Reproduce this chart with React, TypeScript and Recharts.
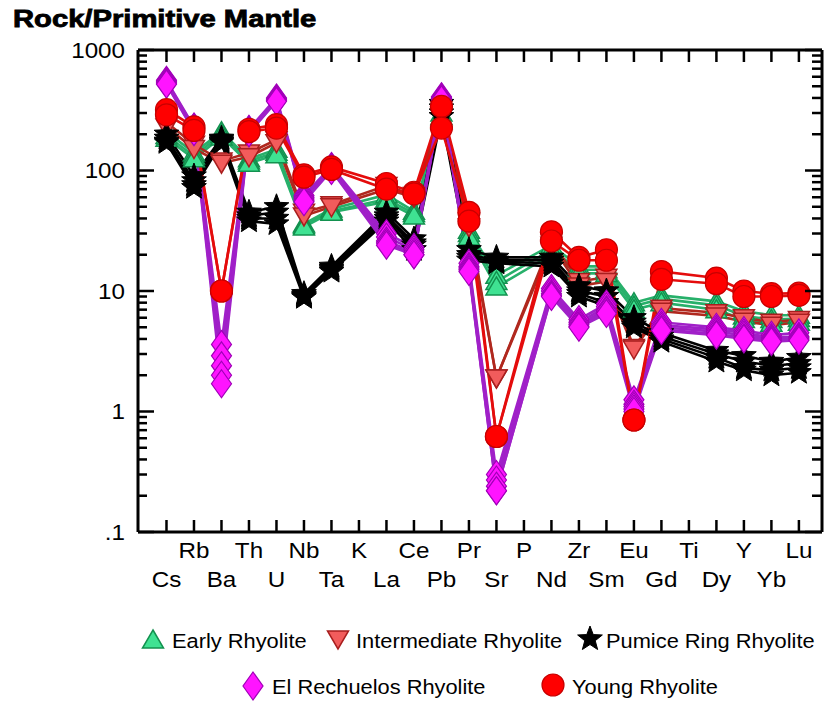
import React from 'react';
import { LineChart, Line, XAxis, YAxis } from 'recharts';

// ---------- categories & tick labels ----------
const categories = ['Cs', 'Rb', 'Ba', 'Th', 'U', 'Nb', 'Ta', 'K', 'La', 'Ce', 'Pb', 'Pr', 'Sr', 'P', 'Nd', 'Zr', 'Sm', 'Eu', 'Gd', 'Ti', 'Dy', 'Y', 'Yb', 'Lu'];
const majorTicks = [0.1, 1, 10, 100, 1000];
const majorTickLabels = ['.1', '1', '10', '100', '1000'];
const minorMultipliers = [2, 3, 4, 5, 6, 7, 8, 9];

// ---------- Early Rhyolite ----------
const early1 = [210, 140, 210, 125, 150, 36, 48, null, 63, 46, 300, 32, 13.5, null, 24, 16, 16, 8, 9.2, null, 8.2, 6.8, 6.3, 6.3];
const early2 = [195, 132, 200, 120, 142, 35, 46, null, 58, 44, 280, 30, 12, null, 22, 15, 15, 7.5, 8.6, null, 7.6, 6.2, 5.8, 5.9];
const early3 = [185, 125, 190, 115, 135, 34, 45, null, 55, 42, 260, 28, 10.8, null, 20, 14, 14, 7, 8, null, 7, 5.8, 5.4, 5.5];

// ---------- Intermediate Rhyolite ----------
const inter1 = [250, 165, 120, 140, 180, 45, 52, null, 75, 62, 320, 38, 1.9, null, 26, 12, 13, 3.4, 7.2, null, 6.6, 6, 5.5, 5.8];
const inter2 = [230, 152, 115, 130, 170, 42, 50, null, 70, 60, 290, 34, 1.9, null, 24, 11, 12, 3.3, 6.8, null, 6.2, 5.6, 5.2, 5.5];

// ---------- Pumice Ring Rhyolite ----------
const pumice1 = [200, 90, 185, 45, 50, 9.5, 16, null, 45, 27, 360, 22, 19, null, 19, 11, 10, 6, 4.5, null, 3.2, 2.9, 2.6, 2.8];
const pumice2 = [185, 82, 180, 42, 45, 9.2, 15.5, null, 42, 25, 330, 20, 18, null, 18, 10, 9, 5.5, 4.2, null, 3, 2.6, 2.4, 2.5];
const pumice3 = [175, 76, 175, 40, 40, 9, 15, null, 40, 24, 300, 19, 17.5, null, 17, 9.5, 8, 5.2, 4, null, 2.8, 2.3, 2.2, 2.3];
const pumice4 = [170, 72, 170, 38, 36, 8.8, 14.5, null, 38, 22, 280, 18, 17, null, 16, 9, 7.5, 5, 3.8, null, 2.6, 2.2, 2, 2.1];

// ---------- El Rechuelos Rhyolite ----------
const rech1 = [560, 230, 3.6, 220, 400, 62, 108, null, 30, 23, 410, 17, 0.3, null, 10.5, 5.8, 7.8, 1.25, 5.5, null, 5, 4.7, 4.3, 4.5];
const rech2 = [550, 225, 2.9, 216, 392, 60, 106, null, 28, 22, 402, 16, 0.27, null, 10, 5.5, 7.4, 1.15, 5.2, null, 4.8, 4.5, 4.1, 4.2];
const rech3 = [540, 220, 2.4, 212, 385, 58, 104, null, 26, 21, 395, 15.5, 0.24, null, 9.5, 5.3, 7, 1.1, 5, null, 4.6, 4.3, 4, 4.1];
const rech4 = [530, 215, 2.0, 208, 380, 56, 102, null, 25, 20, 390, 15, 0.22, null, 9.2, 5.1, 6.8, 1.05, 4.8, null, 4.4, 4.1, 3.9, 4];
const rech5 = [520, 210, 1.7, 205, 375, 55, 100, null, 24, 20, 385, 14.5, 0.22, null, 9, 5, 6.5, 1.0, 4.7, null, 4.3, 4, 3.8, 3.9];

// ---------- Young Rhyolite ----------
const young1 = [320, 230, 10, 220, 240, 92, 107, null, 78, 66, 340, 45, 0.62, null, 31, 19, 22, 0.85, 14.5, null, 12.8, 10, 9.5, 9.6];
const young2 = [290, 215, 10, 210, 225, 88, 102, null, 70, 64, 225, 38, 0.62, null, 26, 18, 18, 0.85, 12.5, null, 11.5, 9, 9, 9.2];

const groupNames = ['Early Rhyolite', 'Intermediate Rhyolite', 'Pumice Ring Rhyolite', 'El Rechuelos Rhyolite', 'Young Rhyolite'];
const groupSamples = [
  [early1, early2, early3],
  [inter1, inter2],
  [pumice1, pumice2, pumice3, pumice4],
  [rech1, rech2, rech3, rech4, rech5],
  [young1, young2],
];

// ---------- styles ----------
const styles = [
  { line: '#27b06a', fill: '#3fe292', stroke: '#13914f', shape: 'triUp' },
  { line: '#b0281e', fill: '#f25c5c', stroke: '#a81e1e', shape: 'triDown' },
  { line: '#000000', fill: '#000000', stroke: '#000000', shape: 'star' },
  { line: '#a020c8', fill: '#ff14ff', stroke: '#a000b8', shape: 'diamond' },
  { line: '#e40c0c', fill: '#ff0000', stroke: '#c80000', shape: 'circle' },
];

const FONT = '"Liberation Sans", Arial, Helvetica, sans-serif';

function starPoints(cx: number, cy: number, ro: number, ri: number) {
  const pts: string[] = [];
  for (let k = 0; k < 10; k++) {
    const r = k % 2 === 0 ? ro : ri;
    const a = -Math.PI / 2 + (k * Math.PI) / 5;
    pts.push(`${(cx + r * Math.cos(a)).toFixed(2)},${(cy + r * Math.sin(a)).toFixed(2)}`);
  }
  return pts.join(' ');
}

function Marker({ shape, cx, cy, fill, stroke, scale = 1 }: any) {
  const s = scale;
  switch (shape) {
    case 'triUp':
      return <polygon points={`${cx},${cy - 10 * s} ${cx + 10.5 * s},${cy + 8 * s} ${cx - 10.5 * s},${cy + 8 * s}`} fill={fill} stroke={stroke} strokeWidth={1.5} />;
    case 'triDown':
      return <polygon points={`${cx - 10.5 * s},${cy - 8 * s} ${cx + 10.5 * s},${cy - 8 * s} ${cx},${cy + 10 * s}`} fill={fill} stroke={stroke} strokeWidth={1.5} />;
    case 'star':
      return <polygon points={starPoints(cx, cy, 13 * s, 5.5 * s)} fill={fill} stroke={stroke} strokeWidth={1} />;
    case 'diamond':
      return <polygon points={`${cx},${cy - 14 * s} ${cx + 10 * s},${cy} ${cx},${cy + 14 * s} ${cx - 10 * s},${cy}`} fill={fill} stroke={stroke} strokeWidth={1.2} />;
    default:
      return <circle cx={cx} cy={cy} r={11 * s} fill={fill} stroke={stroke} strokeWidth={1.2} />;
  }
}

// ---------- table for the library ----------
const seriesList: { key: string; group: number }[] = [];
groupSamples.forEach((samples, g) => samples.forEach((_, j) => seriesList.push({ key: `g${g}s${j}`, group: g })));

const rows = categories.map((cat, i) => {
  const row: any = { x: i, cat };
  groupSamples.forEach((samples, g) =>
    samples.forEach((vals, j) => {
      row[`g${g}s${j}`] = vals[i];
    })
  );
  return row;
});

const xTicks = categories.map((_, i) => i);
const yTicks: number[] = [];
majorTicks.forEach((m, k) => {
  yTicks.push(m);
  if (k < majorTicks.length - 1) minorMultipliers.forEach((mm) => yTicks.push(+(m * mm).toPrecision(3)));
});

const isMajor = (v: number) => majorTicks.some((m) => Math.abs(m - v) < 1e-9);
const majorLabel = (v: number) => majorTickLabels[majorTicks.findIndex((m) => Math.abs(m - v) < 1e-9)];

const LeftTick = (props: any) => {
  const { x, y, payload } = props;
  const v = payload.value;
  const maj = isMajor(v);
  return (
    <g>
      <line x1={x} x2={x + (maj ? 16 : 9)} y1={y} y2={y} stroke="#000" strokeWidth={2.5} />
      {maj && (
        <g transform={`translate(${x - 13},${y}) scale(1.1,1)`}>
          <text x={0} y={0} textAnchor="end" dominantBaseline="central" fontSize={22} fontFamily={FONT} fill="#000">
            {majorLabel(v)}
          </text>
        </g>
      )}
    </g>
  );
};

const RightTick = (props: any) => {
  const { x, y, payload } = props;
  const maj = isMajor(payload.value);
  return <line x1={x} x2={x - (maj ? 17 : 10)} y1={y} y2={y} stroke="#000" strokeWidth={2.5} />;
};

const BottomTick = (props: any) => {
  const { x, y, payload } = props;
  const i = payload.value;
  const upper = i % 2 === 1;
  return (
    <g>
      <line x1={x} x2={x} y1={y} y2={y - 12} stroke="#000" strokeWidth={2.5} />
      <g transform={`translate(${x},${y + (upper ? 18 : 47)}) scale(1.1,1)`}>
        <text x={0} y={0} textAnchor="middle" dominantBaseline="central" fontSize={22} fontFamily={FONT} fill="#000">
          {categories[i]}
        </text>
      </g>
    </g>
  );
};

const TopTick = (props: any) => {
  const { x, y } = props;
  return <line x1={x} x2={x} y1={y} y2={y + 12} stroke="#000" strokeWidth={2.5} />;
};

const makeDot = (g: number, key: string) => (props: any) => {
  const { cx, cy, index } = props;
  const st = styles[g];
  if (typeof cx !== 'number' || typeof cy !== 'number' || isNaN(cy) || props.value == null) {
    return <g key={`${key}-${index}`} />;
  }
  return (
    <g key={`${key}-${index}`}>
      <Marker shape={st.shape} cx={cx} cy={cy} fill={st.fill} stroke={st.stroke} />
    </g>
  );
};

const legendItems = [
  { g: 0, ix: 153, iy: 640, tx: 172, ty: 648 },
  { g: 1, ix: 338, iy: 639, tx: 356, ty: 648 },
  { g: 2, ix: 590, iy: 639, tx: 606, ty: 648 },
  { g: 3, ix: 253, iy: 686, tx: 272, ty: 694 },
  { g: 4, ix: 553, iy: 685, tx: 572, ty: 694 },
];

export default function App() {
  return (
    <div style={{ position: 'absolute', left: 0, top: 0, width: 826, height: 702, background: '#fff' }}>
      <LineChart width={826} height={702} data={rows} margin={{ top: 49, right: 3, left: 137, bottom: 169 }}>
        <XAxis
          xAxisId="bottom"
          dataKey="x"
          type="number"
          domain={[-1.036, 23.84]}
          ticks={xTicks}
          interval={0}
          orientation="bottom"
          height={1}
          tickSize={0}
          tickMargin={0}
          tickLine={false}
          tick={<BottomTick />}
          axisLine={{ stroke: '#000', strokeWidth: 3 }}
          allowDataOverflow
        />
        <XAxis
          xAxisId="top"
          dataKey="x"
          type="number"
          domain={[-1.036, 23.84]}
          ticks={xTicks}
          interval={0}
          orientation="top"
          height={1}
          tickSize={0}
          tickMargin={0}
          tickLine={false}
          tick={<TopTick />}
          axisLine={{ stroke: '#000', strokeWidth: 3 }}
          allowDataOverflow
        />
        <YAxis
          yAxisId="left"
          scale="log"
          type="number"
          domain={[0.1, 1000]}
          ticks={yTicks}
          interval={0}
          width={1}
          tickSize={0}
          tickMargin={0}
          tickLine={false}
          tick={<LeftTick />}
          axisLine={{ stroke: '#000', strokeWidth: 3 }}
          allowDataOverflow
        />
        <YAxis
          yAxisId="right"
          orientation="right"
          scale="log"
          type="number"
          domain={[0.1, 1000]}
          ticks={yTicks}
          interval={0}
          width={1}
          tickSize={0}
          tickMargin={0}
          tickLine={false}
          tick={<RightTick />}
          axisLine={{ stroke: '#000', strokeWidth: 3 }}
          allowDataOverflow
        />
        {seriesList.map((s) => (
          <Line
            key={s.key}
            xAxisId="bottom"
            yAxisId="left"
            type="linear"
            dataKey={s.key}
            stroke={styles[s.group].line}
            strokeWidth={2.6}
            connectNulls
            dot={makeDot(s.group, s.key)}
            activeDot={false}
            isAnimationActive={false}
          />
        ))}
      </LineChart>
      <svg width={826} height={702} style={{ position: 'absolute', left: 0, top: 0, pointerEvents: 'none' }}>
        <g transform="translate(13,27) scale(1.27,1)">
          <text x={0} y={0} fontSize={23} fontWeight={900} fontFamily={FONT} fill="#000" stroke="#000" strokeWidth={0.8}>
            Rock/Primitive Mantle
          </text>
        </g>
        {legendItems.map((it) => {
          const st = styles[it.g];
          return (
            <g key={it.g}>
              <Marker shape={st.shape} cx={it.ix} cy={it.iy} fill={st.fill} stroke={st.stroke} />
              <g transform={`translate(${it.tx},${it.ty}) scale(1.12,1)`}>
                <text x={0} y={0} fontSize={19.5} fontFamily={FONT} fill="#000">
                  {groupNames[it.g]}
                </text>
              </g>
            </g>
          );
        })}
      </svg>
    </div>
  );
}
